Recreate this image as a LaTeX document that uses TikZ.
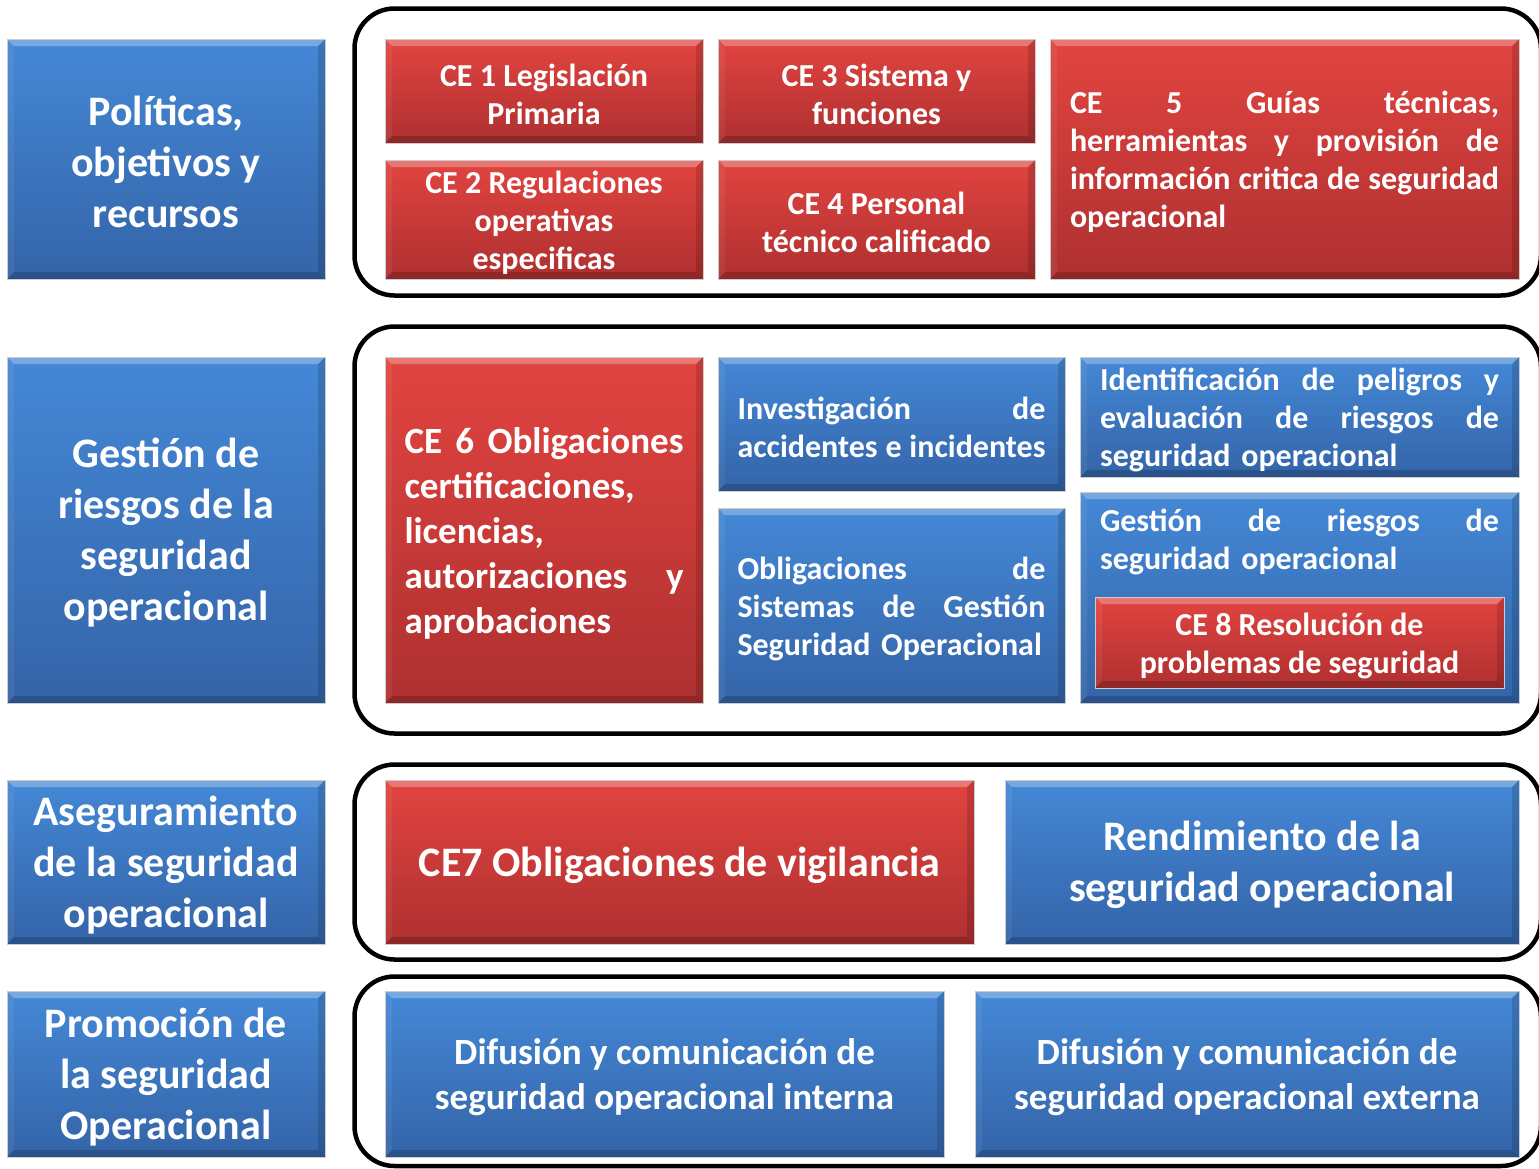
\documentclass[tikz,border=0pt]{standalone}
\usepackage{fontspec}
\setmainfont{Carlito}
\definecolor{bT}{RGB}{68,136,214}
\definecolor{bB}{RGB}{52,100,168}
\definecolor{rT}{RGB}{226,68,64}
\definecolor{rB}{RGB}{174,48,48}
\tikzset{
  x=1pt, y=-1pt,
  box/.style={rectangle, inner sep=0pt, outer sep=0pt, anchor=north west,
    path picture={
      \coordinate (pnw) at (path picture bounding box.north west);
      \coordinate (pne) at (path picture bounding box.north east);
      \coordinate (psw) at (path picture bounding box.south west);
      \coordinate (pse) at (path picture bounding box.south east);
      \fill[white,opacity=0.28] (pnw) -- (pne) -- ([shift={(-7,7)}]pne) -- ([shift={(7,7)}]pnw) -- cycle;
      \fill[white,opacity=0.06] (pnw) -- ([shift={(7,7)}]pnw) -- ([shift={(7,-7)}]psw) -- (psw) -- cycle;
      \fill[black,opacity=0.14] (pne) -- (pse) -- ([shift={(-7,-7)}]pse) -- ([shift={(-7,7)}]pne) -- cycle;
      \fill[black,opacity=0.18] (psw) -- (pse) -- ([shift={(-7,-7)}]pse) -- ([shift={(7,-7)}]psw) -- cycle;
    }},
  bluebox/.style={box, top color=bT, bottom color=bB, draw=white!80!black, line width=0.6pt},
  redbox/.style={box, top color=rT, bottom color=rB, draw=white!80!black, line width=0.6pt},
  txt/.style={text=white, align=center, inner sep=0pt},
  fbig/.style={txt, font=\bfseries\fontsize{42}{51}\selectfont},
  fmid/.style={txt, font=\bfseries\fontsize{37}{45}\selectfont},
  fsmall/.style={txt, font=\bfseries\fontsize{32}{38}\selectfont},
  frame/.style={draw=black, line width=4.5pt, rounded corners=40pt},
}
% #1 box style, #2 name, #3-#6 corners, #7 text style, #8 text
\newcommand{\mybox}[8]{%
  \node[#1, minimum width={#5-#3}, minimum height={#6-#4}] (#2) at (#3,#4) {};
  \node[#7] (#2t) at ([yshift=-3pt]#2.center) {#8};}
\newcommand{\jl}[2]{\leavevmode\hbox to #1{#2}}
\begin{document}
\begin{tikzpicture}
\useasboundingbox (0,0) rectangle (1539,1168);
% frames
\draw[frame] (354.5,8.5) rectangle (1541,295.5);
\draw[frame] (354.5,326.5) rectangle (1541,733.5);
\draw[frame] (354.5,764.5) rectangle (1541,959.5);
\draw[frame] (354.5,976.5) rectangle (1541,1166);
% left column
\mybox{bluebox}{l1}{7}{39}{325}{279}{fbig}{Políticas,\\objetivos y\\recursos}
\mybox{bluebox}{l2}{7}{357}{325}{703}{fbig}{Gestión de\\riesgos de la\\seguridad\\operacional}
\mybox{bluebox}{l3}{7}{780}{325}{944}{fbig}{Aseguramiento\\de la seguridad\\operacional}
\mybox{bluebox}{l4}{7}{991}{325}{1157}{fbig}{Promoción de\\la seguridad\\Operacional}
% row 1
\mybox{redbox}{ce1}{385}{39}{703}{143}{fsmall}{CE 1 Legislación\\Primaria}
\mybox{redbox}{ce3}{718}{39}{1035}{143}{fsmall}{CE 3 Sistema y\\funciones}
\mybox{redbox}{ce2}{385}{160}{703}{279}{fsmall}{CE 2 Regulaciones\\operativas\\especificas}
\mybox{redbox}{ce4}{718}{160}{1035}{279}{fsmall}{CE 4 Personal\\técnico calificado}
\mybox{redbox}{ce5}{1050}{39}{1519}{279}{fsmall,align=left,text width=429pt}{\jl{429pt}{CE\hfill 5\hfill Guías\hfill técnicas,}\\\jl{429pt}{herramientas\hfill y\hfill provisión\hfill de}\\\jl{429pt}{información\hfill critica\hfill de\hfill seguridad}\\\mbox{operacional}}
% row 2
\mybox{redbox}{ce6}{385}{357}{703}{703}{fmid,align=left,text width=279pt}{\jl{279pt}{CE\hfill 6\hfill Obligaciones}\\\mbox{certificaciones,}\\\mbox{licencias,}\\\jl{279pt}{autorizaciones\hfill y}\\\mbox{aprobaciones}}
\mybox{bluebox}{inv}{718}{357}{1065}{491}{fsmall,align=left,text width=308pt}{\jl{308pt}{Investigación\hfill de}\\\jl{308pt}{accidentes\hfill e\hfill incidentes}}
\mybox{bluebox}{sgso}{718}{508}{1065}{703}{fsmall,align=left,text width=308pt}{\jl{308pt}{Obligaciones\hfill de}\\\jl{308pt}{Sistemas\hfill de\hfill Gestión}\\\mbox{Seguridad Operacional}}
\mybox{bluebox}{ident}{1080}{357}{1519}{477}{fsmall,align=left,text width=399pt}{\jl{399pt}{Identificación\hfill de\hfill peligros\hfill y}\\\jl{399pt}{evaluación\hfill de\hfill riesgos\hfill de}\\\mbox{seguridad operacional}}
\node[bluebox, minimum width=439, minimum height=211] (gest) at (1080,492) {};
\node[fsmall, align=left, text width=399pt] (gestt) at (1299.5,542) {\jl{399pt}{Gestión\hfill de\hfill riesgos\hfill de}\\\mbox{seguridad operacional}};
\mybox{redbox}{ce8}{1095}{597}{1504}{688}{fsmall}{CE 8 Resolución de\\problemas de seguridad}
% row 3
\mybox{redbox}{ce7}{385}{780}{974}{944}{fbig}{CE7 Obligaciones de vigilancia}
\mybox{bluebox}{rend}{1005}{780}{1519}{944}{fbig}{Rendimiento de la\\seguridad operacional}
% row 4
\mybox{bluebox}{dint}{385}{991}{944}{1157}{fmid}{Difusión y comunicación de\\seguridad operacional interna}
\mybox{bluebox}{dext}{975}{991}{1519}{1157}{fmid}{Difusión y comunicación de\\seguridad operacional externa}
\end{tikzpicture}
\end{document}
